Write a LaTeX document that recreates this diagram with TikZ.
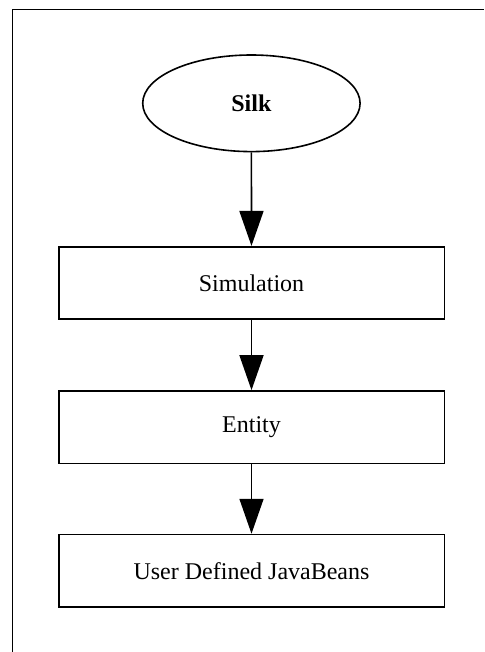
\documentclass[tikz,border=0pt]{standalone}
\usepackage{fontspec}
\setmainfont{Liberation Serif}
\usetikzlibrary{arrows.meta,shapes.geometric}
\begin{document}
\begin{tikzpicture}[x=1pt,y=-1pt,
  lw/.style={line width=1.6pt},
  box/.style={lw,draw,rectangle,minimum width=385.6pt,minimum height=72.5pt,inner sep=0pt,font=\fontsize{24}{28}\selectfont},
  oval/.style={lw,draw,ellipse,minimum width=217.4pt,minimum height=96.6pt,inner sep=0pt,font=\fontsize{24}{28}\selectfont\bfseries},
  conn/.style={lw,-{Triangle[width=24pt,length=35pt]}}]
\useasboundingbox (0,0) rectangle (484,652);
\coordinate (fbl) at (12.5,652);
\coordinate (ftl) at (12.5,9.5);
\coordinate (ftr) at (484,9.5);
\draw[lw] (fbl) -- (ftl) -- (ftr);
\node[oval] (silk) at (251.4,103.3) {Silk};
\node[box] (sim) at (251.5,283) {Simulation};
\node[box] (ent) at (251.5,427.2) {Entity};
\node[box] (udj) at (251.5,570.8) {User Defined JavaBeans};
\draw[conn] (silk) -- (sim);
\draw[conn] (sim) -- (ent);
\draw[conn] (ent) -- (udj);
\end{tikzpicture}
\end{document}
